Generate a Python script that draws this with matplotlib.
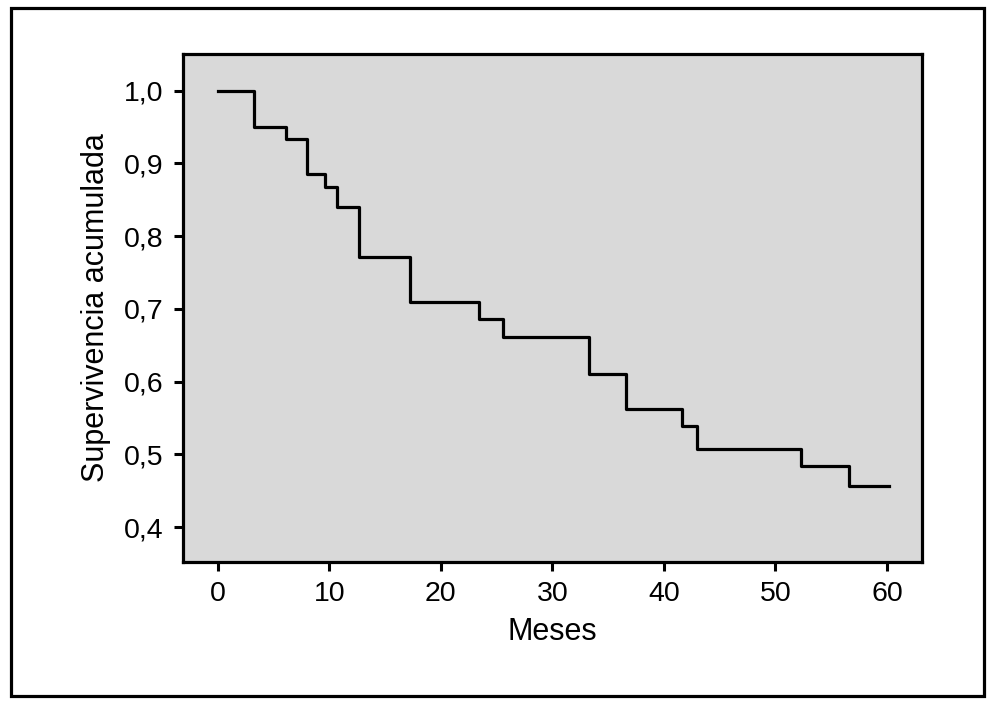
import matplotlib.pyplot as plt
from matplotlib.patches import Rectangle

plt.rcParams['font.family'] = ['Liberation Sans', 'DejaVu Sans']

# event times (months) and cumulative survival after each step
meses = [0, 3.3, 6.1, 8.0, 9.65, 10.7, 12.7, 17.2, 23.45, 25.6, 33.3, 36.65, 41.65, 43.0, 52.3, 56.6, 60.2]
supervivencia = [1.0, 0.950, 0.934, 0.885, 0.868, 0.840, 0.771, 0.709, 0.686, 0.661, 0.611, 0.562, 0.539, 0.507, 0.484, 0.457, 0.457]

xticks = [0, 10, 20, 30, 40, 50, 60]
yticks = [0.4, 0.5, 0.6, 0.7, 0.8, 0.9, 1.0]
ytick_labels = ['0,4', '0,5', '0,6', '0,7', '0,8', '0,9', '1,0']


def main():
    fig = plt.figure(figsize=(9.95, 7.06), dpi=100)
    ax = fig.add_axes([0.1839, 0.204, 0.7427, 0.7195])
    ax.set_facecolor('#d9d9d9')

    ax.step(meses, supervivencia, where='post', color='black', linewidth=2.3)

    ax.set_xlim(-3.11, 63.14)
    ax.set_ylim(0.352, 1.0505)
    ax.set_xticks(xticks)
    ax.set_yticks(yticks)
    ax.set_yticklabels(ytick_labels)
    ax.tick_params(labelsize=20.5, length=6.5, width=2.2, pad=7.5, color='black')

    for s in ax.spines.values():
        s.set_linewidth(2.3)

    ax.set_xlabel('Meses', fontsize=22, labelpad=7)
    ax.set_ylabel('Supervivencia acumulada', fontsize=22, labelpad=9)

    # outer frame around the whole figure
    border = Rectangle((11 / 995, 1 - 696 / 706), (984 - 11) / 995, (696 - 8) / 706,
                       transform=fig.transFigure, fill=False, edgecolor='black',
                       linewidth=2.3)
    fig.patches.append(border)

    fig.savefig('out.png', dpi=100)


if __name__ == '__main__':
    main()
